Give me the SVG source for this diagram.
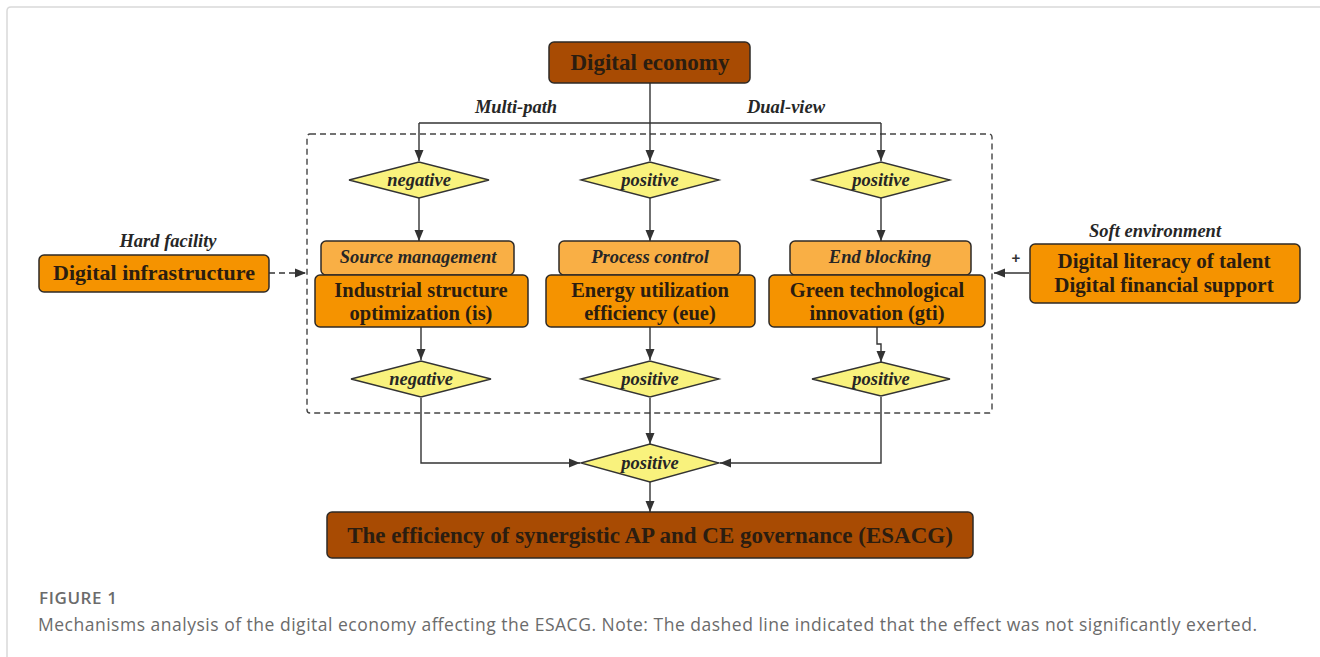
<svg xmlns="http://www.w3.org/2000/svg" width="1320" height="657" viewBox="0 0 1320 657">
<defs>
<marker id="ah" markerUnits="userSpaceOnUse" markerWidth="12" markerHeight="10" refX="11" refY="5" orient="auto">
<path d="M0,0.5 L11,5 L0,9.5 Z" fill="#333"/>
</marker>
</defs>
<style>
.brown{fill:#A84B03;stroke:#2e2a26;stroke-width:1.5}
.org{fill:#F59300;stroke:#2e2a26;stroke-width:1.5}
.lorg{fill:#F9AF45;stroke:#2e2a26;stroke-width:1.5}
.dia{fill:#F9F27D;stroke:#333;stroke-width:1.3}
.bt{font-family:"Liberation Serif","Times New Roman",serif;font-weight:bold;fill:#2b1d10;text-anchor:middle}
.it{font-family:"Liberation Serif","Times New Roman",serif;font-style:italic;font-weight:bold;fill:#262626;text-anchor:middle;font-size:18.5px}
.ln{fill:none;stroke:#333;stroke-width:1.4}
.cap{font-family:"Open Sans","Noto Sans",sans-serif;fill:#6b6b6b}
</style>
<rect width="1320" height="657" fill="#fff"/>
<path d="M7,657 L7,11 Q7,7 11,7 L1320,7" fill="none" stroke="#d9d9d9" stroke-width="1.5"/>

<g id="connectors">
<rect x="307" y="134" width="685" height="279" rx="3" fill="none" stroke="#444" stroke-width="1.4" stroke-dasharray="6,4"/>
<path class="ln" d="M650,83 L650,161" marker-end="url(#ah)"/>
<path class="ln" d="M419,123 L881,123"/>
<path class="ln" d="M419,123 L419,161" marker-end="url(#ah)"/>
<path class="ln" d="M881,123 L881,161" marker-end="url(#ah)"/>
<path class="ln" d="M419,198 L419,241" marker-end="url(#ah)"/>
<path class="ln" d="M650,198 L650,241" marker-end="url(#ah)"/>
<path class="ln" d="M881,198 L881,241" marker-end="url(#ah)"/>
<path class="ln" d="M421,327 L421,360" marker-end="url(#ah)"/>
<path class="ln" d="M650,327 L650,360" marker-end="url(#ah)"/>
<path class="ln" d="M877,327 L877,344 L881,344 L881,362" marker-end="url(#ah)"/>
<path class="ln" d="M421,398 L421,463 L580,463" marker-end="url(#ah)"/>
<path class="ln" d="M650,398 L650,444" marker-end="url(#ah)"/>
<path class="ln" d="M881,397 L881,463 L720,463" marker-end="url(#ah)"/>
<path class="ln" d="M650,482 L650,512" marker-end="url(#ah)"/>
<path class="ln" d="M269,273 L306,273" stroke-dasharray="6,4" marker-end="url(#ah)"/>
<path class="ln" d="M1029,273 L994,273" marker-end="url(#ah)"/>
<text class="it" x="516" y="113">Multi-path</text>
<text class="it" x="786" y="113">Dual-view</text>
<text x="1016" y="263" font-family="Liberation Sans,Arial,sans-serif" font-size="15" font-weight="bold" fill="#333" text-anchor="middle">+</text>
</g>

<g id="digital-economy">
<rect class="brown" x="549" y="42" width="201" height="41" rx="5"/>
<text class="bt" x="650" y="70" font-size="23">Digital economy</text>
</g>

<g id="d-neg-top">
<polygon class="dia" points="349,180 419,162 489,180 419,198"/>
<text class="it" x="419" y="186">negative</text>
</g>
<g id="d-pos-top-mid">
<polygon class="dia" points="581,180 650,162 719,180 650,198"/>
<text class="it" x="650" y="186">positive</text>
</g>
<g id="d-pos-top-right">
<polygon class="dia" points="812,180 881,162 950,180 881,198"/>
<text class="it" x="881" y="186">positive</text>
</g>

<g id="source-management">
<rect class="lorg" x="321" y="241" width="193" height="34" rx="5"/>
<text class="it" x="418" y="263">Source management</text>
</g>
<g id="process-control">
<rect class="lorg" x="559" y="241" width="181" height="34" rx="5"/>
<text class="it" x="650" y="263">Process control</text>
</g>
<g id="end-blocking">
<rect class="lorg" x="790" y="241" width="181" height="34" rx="5"/>
<text class="it" x="880" y="263">End blocking</text>
</g>

<g id="is">
<rect class="org" x="315" y="275" width="213" height="52" rx="5"/>
<text class="bt" x="421" y="296.5" font-size="20.5">Industrial structure</text>
<text class="bt" x="421" y="320" font-size="20.5">optimization (is)</text>
</g>
<g id="eue">
<rect class="org" x="546" y="275" width="209" height="52" rx="5"/>
<text class="bt" x="650" y="296.5" font-size="20.5">Energy utilization</text>
<text class="bt" x="650" y="320" font-size="20.5">efficiency (eue)</text>
</g>
<g id="gti">
<rect class="org" x="769" y="275" width="216" height="52" rx="5"/>
<text class="bt" x="877" y="296.5" font-size="20.5">Green technological</text>
<text class="bt" x="877" y="320" font-size="20.5">innovation (gti)</text>
</g>

<g id="d-neg-bot">
<polygon class="dia" points="351,379 421,361 491,379 421,397"/>
<text class="it" x="421" y="385">negative</text>
</g>
<g id="d-pos-bot-mid">
<polygon class="dia" points="581,379 650,361 719,379 650,397"/>
<text class="it" x="650" y="385">positive</text>
</g>
<g id="d-pos-bot-right">
<polygon class="dia" points="812,379 881,362 950,379 881,396"/>
<text class="it" x="881" y="385">positive</text>
</g>

<g id="d-pos-final">
<polygon class="dia" points="581,463 650,444 719,463 650,482"/>
<text class="it" x="650" y="469">positive</text>
</g>

<g id="esacg">
<rect class="brown" x="327" y="512" width="646" height="46" rx="5"/>
<text class="bt" x="650" y="543" font-size="23">The efficiency of synergistic AP and CE governance (ESACG)</text>
</g>

<g id="digital-infrastructure">
<text class="it" x="168" y="247">Hard facility</text>
<rect class="org" x="39" y="255" width="230" height="37" rx="5"/>
<text class="bt" x="154" y="280" font-size="22">Digital infrastructure</text>
</g>

<g id="soft-environment">
<text class="it" x="1155" y="237">Soft environment</text>
<rect class="org" x="1030" y="244" width="270" height="59" rx="5"/>
<text class="bt" x="1164" y="268" font-size="21">Digital literacy of talent</text>
<text class="bt" x="1164" y="291.5" font-size="21">Digital financial support</text>
</g>

<g id="caption">
<text class="cap" x="39" y="604" font-size="17" font-weight="600" letter-spacing="0.6" fill="#5e5e5e">FIGURE 1</text>
<text class="cap" x="38" y="631" font-size="17.5" textLength="1219" lengthAdjust="spacing">Mechanisms analysis of the digital economy affecting the ESACG. Note: The dashed line indicated that the effect was not significantly exerted.</text>
</g>
</svg>
